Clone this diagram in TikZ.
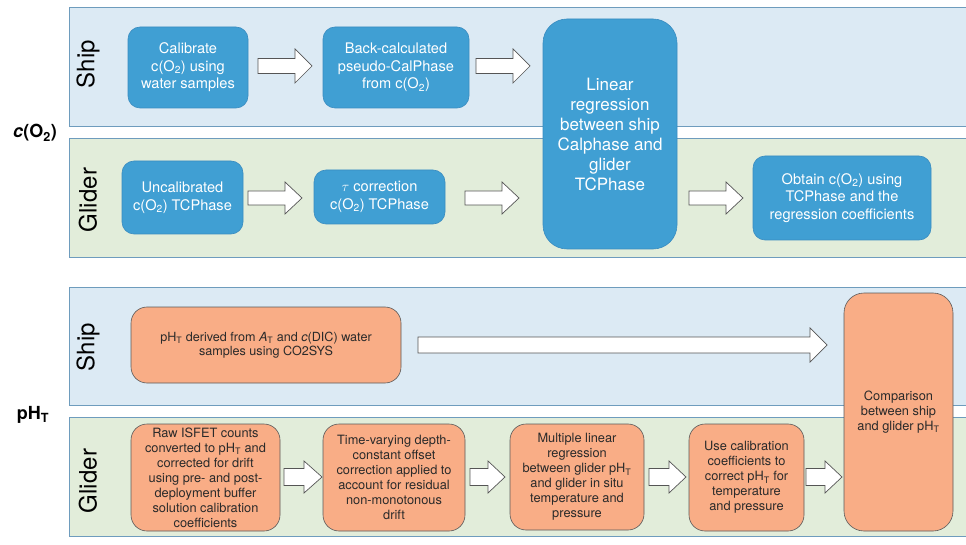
\documentclass[tikz,border=0pt]{standalone}
\usepackage{fontspec}
\setmainfont{TeX Gyre Heros}
\begin{document}
\begin{tikzpicture}[x=1pt,y=-1pt,
  shipband/.style={fill=shipfill,draw=bandline,line width=0.8pt},
  gliderband/.style={fill=gliderfill,draw=bandline,line width=0.8pt},
  bluebox/.style={fill=boxblue,draw=boxblueline,line width=0.6pt,rounded corners=12pt,
     text=white,align=center,inner sep=0pt,font=\fontsize{14.6}{17.5}\selectfont},
  salbox/.style={fill=salmon,draw=salline,line width=0.6pt,rounded corners=16pt,
     text=saltext,align=center,inner sep=0pt,font=\fontsize{12.8}{15}\selectfont},
  bandlabel/.style={rotate=90,font=\fontsize{24}{26}\selectfont,text=black},
  sidelabel/.style={font=\bfseries\fontsize{18}{20}\selectfont,text=black},
  blockarrow/.style={fill=white,draw=arrline,line width=0.7pt,line join=miter}]
\definecolor{shipfill}{HTML}{DCEAF4}
\definecolor{gliderfill}{HTML}{E2EDDA}
\definecolor{bandline}{HTML}{6E9CBD}
\definecolor{boxblue}{HTML}{409FD3}
\definecolor{boxblueline}{HTML}{3A8CC0}
\definecolor{salmon}{HTML}{F9AD86}
\definecolor{salline}{HTML}{5A5A5A}
\definecolor{saltext}{HTML}{2A2A2A}
\definecolor{arrline}{HTML}{555555}
\useasboundingbox (0,0) rectangle (966,545);
\newcommand{\barrow}[6]{%
  \draw[blockarrow] (#1,{#3-#4}) -- ({#2-#6},{#3-#4}) -- ({#2-#6},{#3-#5}) -- (#2,#3)
    -- ({#2-#6},{#3+#5}) -- ({#2-#6},{#3+#4}) -- (#1,{#3+#4}) -- cycle;}
% bands
\path[shipband] (69,7) rectangle (970,126);
\path[gliderband] (69,138) rectangle (970,257);
\path[shipband] (69,287) rectangle (970,405);
\path[gliderband] (69,417) rectangle (970,536);
% labels
\node[bandlabel] (s1) at (88,64) {Ship};
\node[bandlabel] (g1) at (88,200) {Glider};
\node[bandlabel] (s2) at (88,347) {Ship};
\node[bandlabel] (g2) at (88,481) {Glider};
\node[sidelabel] (co2) at (35,133) {\textit{c}(O\textsubscript{2})};
\node[sidelabel] (ph) at (33,415) {pH\textsubscript{T}};
% top boxes
\node[bluebox,minimum width=120pt,minimum height=81pt] (cal) at (188,67.5)
  {Calibrate\\c(O\textsubscript{2}) using\\water samples};
\node[bluebox,minimum width=146pt,minimum height=81pt] (back) at (396,67.5)
  {Back-calculated\\pseudo-CalPhase\\from c(O\textsubscript{2})};
\node[bluebox,minimum width=134pt,minimum height=230pt,rounded corners=24pt,
  font=\fontsize{17}{20}\selectfont] (lin) at (610,134)
  {Linear\\regression\\between ship\\Calphase and\\glider\\TCPhase};
\node[bluebox,minimum width=121pt,minimum height=73pt] (unc) at (182.5,197.5)
  {Uncalibrated\\c(O\textsubscript{2}) TCPhase};
\node[bluebox,minimum width=131pt,minimum height=54pt] (tau) at (379.5,197)
  {$\tau$ correction\\c(O\textsubscript{2}) TCPhase};
\node[bluebox,minimum width=178pt,minimum height=84pt] (obt) at (842,198)
  {Obtain c(O\textsubscript{2}) using\\TCPhase and the\\regression coefficients};
% bottom boxes
\node[salbox,minimum width=270pt,minimum height=76pt,font=\fontsize{12.6}{14}\selectfont] (phs) at (266,345)
  {pH\textsubscript{T} derived from \textit{A}\textsubscript{T} and \textit{c}(DIC) water\\samples using CO2SYS};
\node[salbox,minimum width=109pt,minimum height=238pt,rounded corners=20pt] (cmp) at (898.5,412)
  {Comparison\\between ship\\and glider pH\textsubscript{T}};
\node[salbox,minimum width=149pt,minimum height=107pt] (raw) at (205.5,477.5)
  {Raw ISFET counts\\converted to pH\textsubscript{T} and\\corrected for drift\\using pre- and post-\\deployment buffer\\solution calibration\\coefficients};
\node[salbox,minimum width=142pt,minimum height=107pt] (tvd) at (394,477.5)
  {Time-varying depth-\\constant offset\\correction applied to\\account for residual\\non-monotonous\\drift};
\node[salbox,minimum width=134pt,minimum height=106pt] (mlr) at (577,477)
  {Multiple linear\\regression\\between glider pH\textsubscript{T}\\and glider in situ\\temperature and\\pressure};
\node[salbox,minimum width=115pt,minimum height=107pt] (use) at (746.5,477.5)
  {Use calibration\\coefficients to\\correct pH\textsubscript{T} for\\temperature\\and pressure};
% block arrows
\barrow{258}{312}{66}{7.5}{17}{17}
\barrow{476}{530}{66}{7.5}{17}{17}
\barrow{248}{302}{198}{7}{16}{17}
\barrow{465}{519}{198}{7}{16}{17}
\barrow{689}{743}{198}{7}{16}{17}
\barrow{418}{827}{345}{8}{17}{17}
\barrow{284}{322}{477}{8.5}{16}{18}
\barrow{470}{505}{477}{8.5}{16}{17}
\barrow{649}{686}{477}{8.5}{16}{17}
\barrow{806}{842}{477}{8.5}{16}{17}
\end{tikzpicture}
\end{document}
